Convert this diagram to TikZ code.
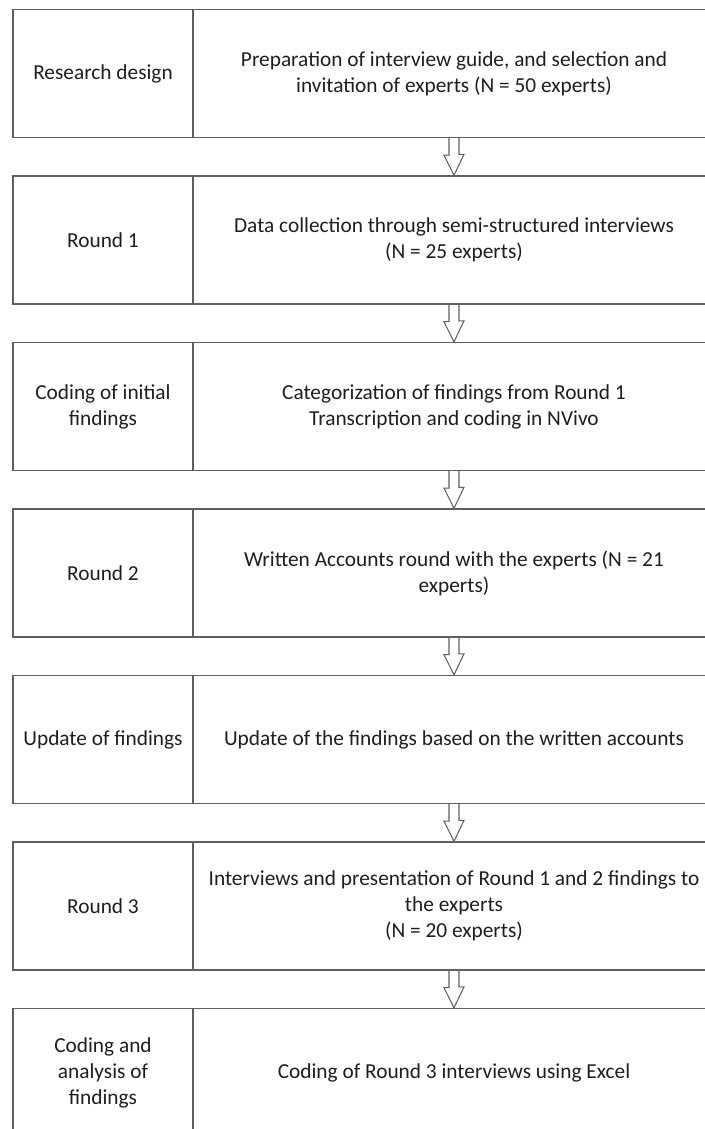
\documentclass[tikz,border=0pt]{standalone}
\usepackage{fontspec}
\setmainfont{Carlito}
\definecolor{linegray}{HTML}{5F5F5F}
\definecolor{textgray}{HTML}{1E1E1E}
\begin{document}
\begin{tikzpicture}[x=0.75pt, y=-0.75pt,
    stage/.style={draw=linegray, line width=1pt, minimum width=135pt, minimum height=96pt, align=center, text=textgray, inner sep=2pt},
    task/.style={draw=linegray, line width=1pt, minimum width=391.5pt, minimum height=96pt, align=center, text=textgray, inner sep=2pt},
    blockarrow/.style={draw=linegray, line width=0.8pt, line join=miter}]
  \useasboundingbox (0, 0) rectangle (705, 1129);
  \clip (0, 0) rectangle (705, 1129);
  \fontsize{16}{19.5}\selectfont

  \node [stage] (s1) at (103, 73.5) {Research design};
  \node [task] (t1) at (454, 73.5) {Preparation of interview guide, and selection and\\invitation of experts (N = 50 experts)};

  \node [stage] (s2) at (103, 240) {Round 1};
  \node [task] (t2) at (454, 240) {Data collection through semi-structured interviews\\(N = 25 experts)};

  \node [stage] (s3) at (103, 406.5) {Coding of initial\\findings};
  \node [task] (t3) at (454, 406.5) {Categorization of findings from Round 1\\Transcription and coding in NVivo};

  \node [stage] (s4) at (103, 573) {Round 2};
  \node [task] (t4) at (454, 573) {Written Accounts round with the experts (N = 21\\experts)};

  \node [stage] (s5) at (103, 739.5) {Update of findings};
  \node [task] (t5) at (454, 739.5) {Update of the findings based on the written accounts};

  \node [stage] (s6) at (103, 906) {Round 3};
  \node [task] (t6) at (454, 906) {Interviews and presentation of Round 1 and 2 findings to\\the experts\\(N = 20 experts)};

  \node [stage] (s7) at (103, 1072.5) {Coding and\\analysis of\\findings};
  \node [task] (t7) at (454, 1072.5) {Coding of Round 3 interviews using Excel};

  % hollow arrows between the rows
  \draw [blockarrow] (t1.south) ++(-5, 0) -- ++(0, 17) -- ++(-5, 0) -- (t2.north) -- ++(10, -21) -- ++(-5, 0) -- ++(0, -17);
  \draw [blockarrow] (t2.south) ++(-5, 0) -- ++(0, 17) -- ++(-5, 0) -- (t3.north) -- ++(10, -21) -- ++(-5, 0) -- ++(0, -17);
  \draw [blockarrow] (t3.south) ++(-5, 0) -- ++(0, 17) -- ++(-5, 0) -- (t4.north) -- ++(10, -21) -- ++(-5, 0) -- ++(0, -17);
  \draw [blockarrow] (t4.south) ++(-5, 0) -- ++(0, 17) -- ++(-5, 0) -- (t5.north) -- ++(10, -21) -- ++(-5, 0) -- ++(0, -17);
  \draw [blockarrow] (t5.south) ++(-5, 0) -- ++(0, 17) -- ++(-5, 0) -- (t6.north) -- ++(10, -21) -- ++(-5, 0) -- ++(0, -17);
  \draw [blockarrow] (t6.south) ++(-5, 0) -- ++(0, 17) -- ++(-5, 0) -- (t7.north) -- ++(10, -21) -- ++(-5, 0) -- ++(0, -17);
\end{tikzpicture}
\end{document}
